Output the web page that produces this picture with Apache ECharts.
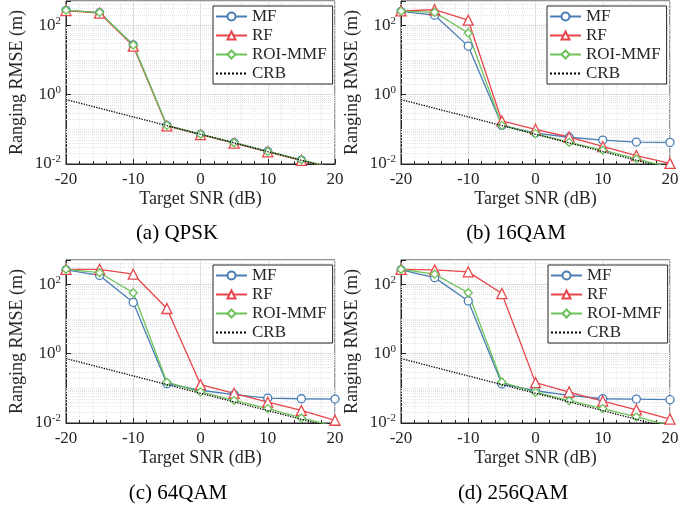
<!DOCTYPE html>
<html>
<head>
<meta charset="utf-8">
<script src="https://cdn.jsdelivr.net/npm/echarts@6/dist/echarts.min.js"></script>
<style>
  html, body { margin: 0; padding: 0; background: #fff; }
  #chart { width: 699px; height: 505px; }
</style>
</head>
<body>
<div id="chart"></div>
<script>
// x axis values (dB)
const snr = [-20, -15, -10, -5, 0, 5, 10, 15, 20];
const crb = [0.72, 0.405, 0.228, 0.128, 0.072, 0.0405, 0.0228, 0.0128, 0.0072];

// (a) QPSK
const qpskMF = [270, 230, 27, 0.128, 0.071, 0.041, 0.023, 0.013, 0.0074];
const qpskRF = [265, 225, 25, 0.126, 0.070, 0.040, 0.0225, 0.0128, 0.0073];
const qpskROI = [272, 232, 27, 0.13, 0.072, 0.041, 0.023, 0.0132, 0.0075];
// (b) 16QAM
const qam16MF = [250, 195, 25, 0.13, 0.078, 0.059, 0.049, 0.043, 0.042];
const qam16RF = [260, 280, 140, 0.174, 0.1, 0.06, 0.032, 0.0175, 0.0104];
const qam16ROI = [255, 235, 60, 0.13, 0.075, 0.042, 0.025, 0.014, 0.008];
// (c) 64QAM
const qam64MF = [260, 180, 30, 0.136, 0.088, 0.066, 0.052, 0.05, 0.049];
const qam64RF = [270, 270, 195, 20, 0.128, 0.072, 0.04, 0.023, 0.012];
const qam64ROI = [270, 215, 57, 0.15, 0.079, 0.045, 0.026, 0.014, 0.008];
// (d) 256QAM
const qam256MF = [260, 155, 33, 0.134, 0.085, 0.063, 0.05, 0.049, 0.047];
const qam256RF = [270, 260, 228, 54, 0.146, 0.078, 0.043, 0.024, 0.013];
const qam256ROI = [270, 195, 57, 0.152, 0.077, 0.044, 0.026, 0.015, 0.0085];

// minor grid lines of the log axis
const minorY = [0.02, 0.03, 0.04, 0.05, 0.06, 0.07, 0.08, 0.09, 0.1,
  0.2, 0.3, 0.4, 0.5, 0.6, 0.7, 0.8, 0.9,
  2, 3, 4, 5, 6, 7, 8, 9, 10, 20, 30, 40, 50, 60, 70, 80, 90, 200, 300, 400];

const captions = ['(a) QPSK', '(b) 16QAM', '(c) 64QAM', '(d) 256QAM'];

const panels = [
  { mf: qpskMF, rf: qpskRF, roi: qpskROI },
  { mf: qam16MF, rf: qam16RF, roi: qam16ROI },
  { mf: qam64MF, rf: qam64RF, roi: qam64ROI },
  { mf: qam256MF, rf: qam256RF, roi: qam256ROI }
];

const FONT = 'Liberation Serif';
const TXT = '#262626';
const colMF = '#4a7db5';
const colRF = '#e8454a';
const colROI = '#6cc259';

// layout of the four panels
const layout = [
  { left: 66, top: 1, capX: 177, capY: 233, legX: 213, legY: 6 },
  { left: 401, top: 1, capX: 516, capY: 233, legX: 547, legY: 6 },
  { left: 66, top: 260, capX: 178, capY: 493, legX: 213, legY: 265 },
  { left: 401, top: 260, capX: 513, capY: 493, legX: 548, legY: 265 }
];

const pairs = arr => snr.map((x, i) => [x, arr[i]]);

function mkLine(name, color, symbol, data, idx) {
  return {
    name: name,
    type: 'line',
    xAxisIndex: idx,
    yAxisIndex: idx,
    data: pairs(data),
    symbol: symbol,
    symbolSize: symbol === 'triangle' ? 10 : 8,
    showAllSymbol: true,
    lineStyle: { color: color, width: 1.3 },
    itemStyle: { color: '#fff', borderColor: color, borderWidth: 1.3 },
    z: 3
  };
}

const grids = [], xAxes = [], yAxes = [], series = [], legends = [], texts = [];

layout.forEach((L, i) => {
  grids.push({
    left: L.left, top: L.top, width: 269, height: 163,
    show: true, borderColor: TXT, borderWidth: 1, backgroundColor: '#fff'
  });
  xAxes.push({
    type: 'value', gridIndex: i, min: -20, max: 20, interval: 10,
    name: 'Target SNR (dB)', nameLocation: 'middle', nameGap: 26,
    nameTextStyle: { fontFamily: FONT, fontSize: 18, color: TXT },
    axisLine: { onZero: false, lineStyle: { color: TXT } },
    axisTick: { inside: true, length: 5, lineStyle: { color: TXT } },
    minorTick: { show: true, splitNumber: 5, length: 3, lineStyle: { color: TXT } },
    axisLabel: { fontFamily: FONT, fontSize: 17, color: TXT, margin: 7 },
    splitLine: { show: true, lineStyle: { color: '#dedede', width: 1 } },
    minorSplitLine: { show: true, lineStyle: { color: '#e6e6e6', type: 'dotted', width: 1 } }
  });
  yAxes.push({
    type: 'log', logBase: 10, gridIndex: i, min: 0.01, max: 500, interval: 2,
    name: 'Ranging RMSE (m)', nameLocation: 'middle', nameGap: 40,
    nameTextStyle: { fontFamily: FONT, fontSize: 18, color: TXT },
    axisLine: { onZero: false, lineStyle: { color: TXT } },
    axisTick: { inside: true, length: 5, lineStyle: { color: TXT } },
    axisLabel: {
      margin: 5,
      formatter: function (v) {
        const e = Math.log10(v);
        if (Math.abs(e - Math.round(e)) > 1e-6) return '';
        return '{b|10}{s|' + Math.round(e) + '}';
      },
      rich: {
        b: { fontFamily: FONT, fontSize: 17, color: TXT },
        s: { fontFamily: FONT, fontSize: 11, color: TXT, padding: [0, 0, 9, 0] }
      }
    },
    splitLine: { show: true, lineStyle: { color: '#dedede', width: 1 } }
  });

  const p = panels[i];
  series.push(mkLine('MF', colMF, 'circle', p.mf, i));
  series.push(mkLine('RF', colRF, 'triangle', p.rf, i));
  series.push(mkLine('ROI-MMF', colROI, 'diamond', p.roi, i));
  series.push({
    name: 'CRB', type: 'line', xAxisIndex: i, yAxisIndex: i,
    data: pairs(crb), symbol: 'none',
    lineStyle: { color: '#000', width: 1.3, type: 'dotted' },
    itemStyle: { color: '#000' },
    z: 4,
    markLine: {
      silent: true, symbol: 'none', label: { show: false }, z: 1,
      lineStyle: { color: '#e3e3e3', type: 'dotted', width: 1 },
      data: minorY.map(v => ({ yAxis: v }))
    }
  });

  legends.push({
    left: L.legX, top: L.legY, orient: 'vertical',
    data: ['MF', 'RF', 'ROI-MMF', { name: 'CRB', itemStyle: { opacity: 0 } }],
    selectedMode: false,
    itemWidth: 31, itemHeight: 10, itemGap: 2,
    padding: [2, 6, 2, 2],
    backgroundColor: '#fff', borderColor: TXT, borderWidth: 1,
    textStyle: { fontFamily: FONT, fontSize: 17, color: TXT, lineHeight: 17 }
  });

  texts.push({
    type: 'text', x: L.capX, y: L.capY,
    style: { text: captions[i], fill: '#000', font: '21px "' + FONT + '"', align: 'center', verticalAlign: 'middle' }
  });
});

const chart = echarts.init(document.getElementById('chart'), null, { renderer: 'canvas' });
chart.setOption({
  animation: false,
  backgroundColor: '#fff',
  grid: grids,
  xAxis: xAxes,
  yAxis: yAxes,
  legend: legends,
  series: series,
  graphic: texts
});
</script>
</body>
</html>
